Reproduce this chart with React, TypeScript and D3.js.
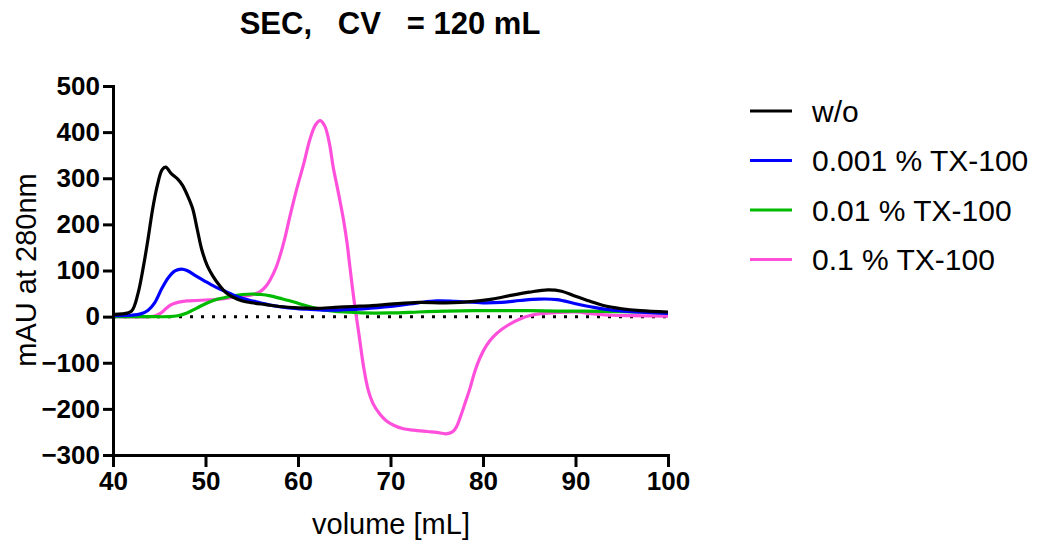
import React, { useEffect, useRef } from 'react';
import * as d3 from 'd3';

const title = 'SEC,   CV   = 120 mL';
const xLabel = 'volume [mL]';
const yLabel = 'mAU at 280nm';

const xTicks = [40, 50, 60, 70, 80, 90, 100];
const yTicks = [500, 400, 300, 200, 100, 0, -100, -200, -300];

const seriesNames = ['w/o', '0.001 % TX-100', '0.01 % TX-100', '0.1 % TX-100'];
const seriesColors = ['#000000', '#0000ff', '#00bb00', '#ff50dc'];

// [volume mL, mAU]
const woData: [number, number][] = [
  [40, 5], [41, 6], [42, 12], [42.7, 50], [43.3, 110], [43.8, 170], [44.3, 235], [44.8, 285],
  [45.3, 318], [45.7, 324], [46.3, 310], [47, 298], [47.5, 285], [48, 265], [48.6, 235],
  [49.1, 190], [49.6, 145], [50.2, 110], [50.8, 88], [51.5, 68], [52.2, 52], [53, 42], [54, 34],
  [55, 30], [56.5, 26], [58, 22], [60, 19], [62, 18], [64, 20], [66, 22], [68, 24], [70, 27],
  [73, 31], [76, 30], [79, 33], [81, 38], [83, 46], [85, 53], [87, 58], [88.5, 55], [90, 44],
  [91.5, 34], [93, 24], [95, 17], [97, 13], [100, 10],
];
const tx001Data: [number, number][] = [
  [40, 2], [42, 3], [43, 6], [43.8, 14], [44.5, 30], [45.3, 62], [46, 85], [46.7, 99], [47.4, 103],
  [48, 100], [49, 88], [50, 76], [51, 65], [52, 56], [53, 47], [54, 40], [55.5, 32], [57, 25],
  [59, 19], [61, 16], [63, 14], [65, 15], [67, 17], [70, 22], [73, 30], [75, 34], [77, 33],
  [80, 30], [82, 31], [84, 35], [86, 38], [88, 37], [90, 28], [92, 20], [94, 14], [96, 11], [100, 7],
];
const tx01Data: [number, number][] = [
  [40, 0], [44, 0], [46, 0], [47, 2], [48, 8], [49, 18], [50, 28], [51, 36], [52, 41], [53, 45],
  [54, 48], [55, 49], [56, 48], [57, 45], [58, 40], [59, 35], [60, 29], [61, 23], [62, 18],
  [63, 14], [65, 10], [67, 8], [70, 8], [73, 10], [76, 12], [79, 13], [82, 13], [85, 13],
  [88, 12], [91, 12], [94, 11], [97, 10], [100, 8],
];
const tx1Data: [number, number][] = [
  [40, 0], [44, 0], [44.6, 2], [45.2, 8], [45.7, 17], [46.3, 26], [47, 31], [48, 34], [49, 35],
  [50, 36], [51, 37], [52, 39], [53, 42], [54, 44], [55, 47], [55.9, 54], [56.5, 65], [57, 80],
  [57.6, 105], [58.1, 135], [58.6, 172], [59.1, 215], [59.8, 272], [60.6, 330], [61.3, 385],
  [61.9, 416], [62.4, 425], [62.9, 413], [63.4, 375], [63.8, 325], [64.4, 265], [64.9, 212],
  [65.3, 160], [65.6, 110], [65.9, 60], [66.2, 15], [66.6, -40], [67.1, -110], [67.6, -160],
  [68.1, -188], [68.8, -210], [69.5, -225], [70.4, -236], [71.4, -243], [72.5, -246], [74, -249],
  [75, -251], [76, -254], [76.7, -250], [77.1, -240], [77.6, -215], [78.1, -185], [78.6, -155],
  [79.1, -120], [79.7, -88], [80.4, -62], [81.1, -44], [82, -28], [83, -15], [84, -5], [85, 2],
  [86.5, 7], [88, 9], [90, 10], [92, 6], [94, 3], [96, 2], [100, 1],
];
const allSeries = [woData, tx001Data, tx01Data, tx1Data];

const W = 1039;
const H = 545;
const FONT = '"Liberation Sans", Arial, Helvetica, sans-serif';

export default function App() {
  const ref = useRef<SVGSVGElement>(null);

  useEffect(() => {
    const svg = d3.select(ref.current);
    svg.selectAll('*').remove();

    const x = d3.scaleLinear().domain([40, 100]).range([113, 668]);
    const y = d3.scaleLinear().domain([-300, 500]).range([455, 86]);

    // title
    svg.append('text')
      .attr('x', 390).attr('y', 34)
      .attr('text-anchor', 'middle')
      .style('white-space', 'pre')
      .attr('font-family', FONT).attr('font-size', 31).attr('font-weight', 'bold')
      .text(title);

    // zero line, dotted
    svg.append('line')
      .attr('x1', x(40)).attr('x2', x(100))
      .attr('y1', y(0)).attr('y2', y(0))
      .attr('stroke', '#000').attr('stroke-width', 3)
      .attr('stroke-dasharray', '3 8');

    const line = d3.line<[number, number]>()
      .x(d => x(d[0]))
      .y(d => y(d[1]))
      .curve(d3.curveCatmullRom.alpha(0.5));

    // draw order: pink, green, blue, black on top
    [3, 2, 1, 0].forEach(i => {
      svg.append('path')
        .datum(allSeries[i])
        .attr('fill', 'none')
        .attr('stroke', seriesColors[i])
        .attr('stroke-width', 3.2)
        .attr('stroke-linejoin', 'round')
        .attr('d', line);
    });

    // axes
    const yAxis = svg.append('g')
      .attr('transform', `translate(${x(40)},0)`)
      .call(d3.axisLeft(y).tickValues(yTicks).tickSize(10).tickSizeOuter(0).tickPadding(3));
    const xAxis = svg.append('g')
      .attr('transform', `translate(0,${y(-300)})`)
      .call(d3.axisBottom(x).tickValues(xTicks).tickSize(12).tickSizeOuter(0).tickPadding(5));

    [yAxis, xAxis].forEach(g => {
      g.select('.domain').attr('stroke-width', 3).attr('stroke-linecap', 'square');
      g.selectAll('.tick line').attr('stroke-width', 3);
      g.selectAll('.tick text')
        .attr('font-family', FONT).attr('font-size', 26).attr('font-weight', 'bold')
        .attr('fill', '#000');
    });

    // axis titles
    svg.append('text')
      .attr('transform', `translate(36,270) rotate(-90)`)
      .attr('text-anchor', 'middle')
      .attr('font-family', FONT).attr('font-size', 29)
      .text(yLabel);
    svg.append('text')
      .attr('x', 391).attr('y', 534)
      .attr('text-anchor', 'middle')
      .attr('font-family', FONT).attr('font-size', 29)
      .text(xLabel);

    // legend
    const legend = svg.append('g');
    seriesNames.forEach((name, i) => {
      const cy = 111 + i * 49.5;
      legend.append('line')
        .attr('x1', 750).attr('x2', 792)
        .attr('y1', cy).attr('y2', cy)
        .attr('stroke', seriesColors[i]).attr('stroke-width', 3.2);
      legend.append('text')
        .attr('x', 812).attr('y', cy + 10.5)
        .attr('font-family', FONT).attr('font-size', 30)
        .text(name);
    });
  }, []);

  return (
    <svg ref={ref} width={W} height={H}
      style={{ position: 'absolute', left: 0, top: 0, background: '#fff' }} />
  );
}
